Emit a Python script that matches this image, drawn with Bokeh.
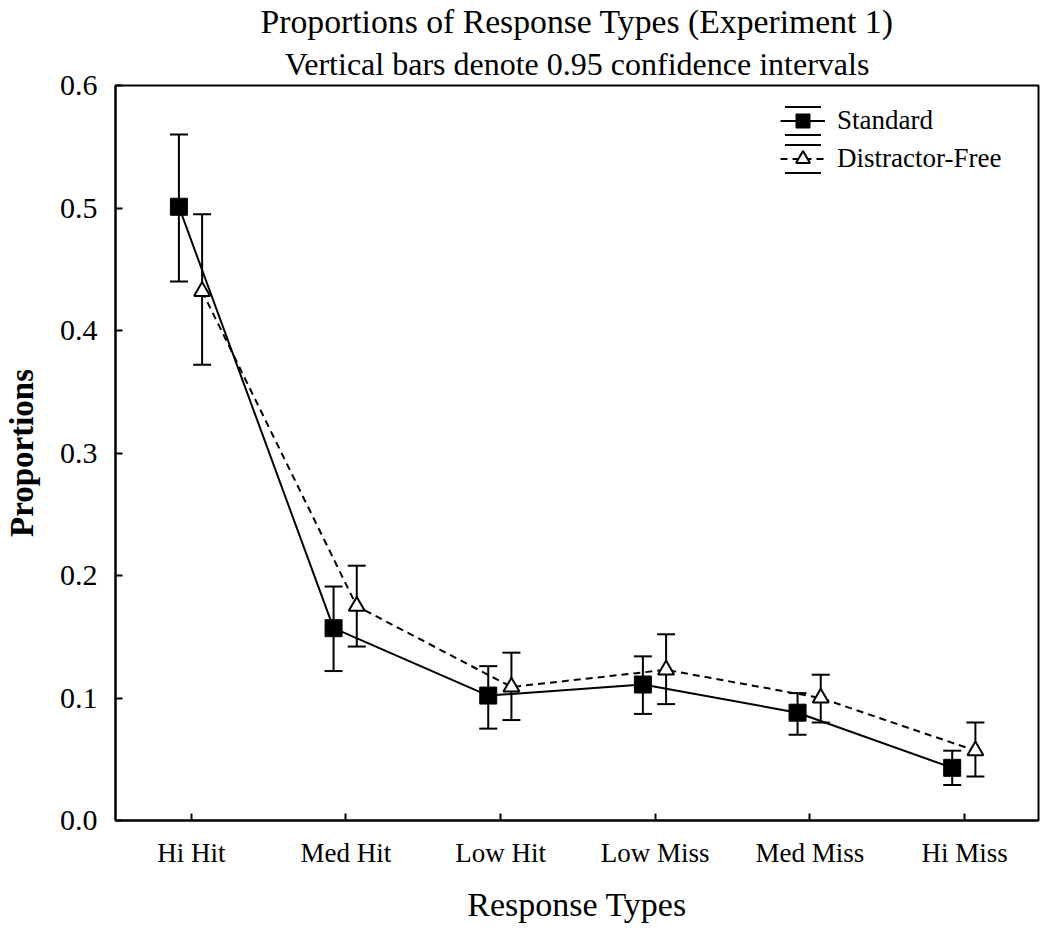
import numpy as np
from bokeh.plotting import figure
from bokeh.models import (ColumnDataSource, Whisker, TeeHead, FixedTicker, NumeralTickFormatter,
                          Legend, LegendItem, Title, Range1d)
from bokeh.embed import file_html
from bokeh.resources import INLINE

# ---- data ----
categories = ["Hi Hit", "Med Hit", "Low Hit", "Low Miss", "Med Miss", "Hi Miss"]
std_mean = [0.501, 0.157, 0.102, 0.111, 0.088, 0.043]
std_lower = [0.440, 0.122, 0.075, 0.087, 0.070, 0.029]
std_upper = [0.560, 0.191, 0.126, 0.134, 0.104, 0.057]
free_mean = [0.432, 0.175, 0.109, 0.123, 0.100, 0.057]
free_lower = [0.372, 0.142, 0.082, 0.095, 0.080, 0.036]
free_upper = [0.495, 0.208, 0.137, 0.152, 0.119, 0.080]
y_ticks = [0.0, 0.1, 0.2, 0.3, 0.4, 0.5, 0.6]

FONT = "Liberation Serif"
pos = list(range(len(categories)))
std_x = [i - 0.08 for i in pos]
free_x = [i + 0.07 for i in pos]

std_src = ColumnDataSource(dict(x=std_x, y=std_mean, lo=std_lower, hi=std_upper))
free_src = ColumnDataSource(dict(x=free_x, y=free_mean, lo=free_lower, hi=free_upper))

p = figure(width=1040, height=925, output_backend="svg", toolbar_location=None,
           x_range=Range1d(-0.49, 5.478), y_range=Range1d(0.0, 0.6),
           min_border_left=113, min_border_right=2, min_border_top=85, min_border_bottom=99,
           background_fill_color="white", border_fill_color="white")
p.title = None
p.grid.visible = False
p.outline_line_color = "black"
p.outline_line_width = 2

# titles: subtitle first (next to the frame), then the main title above it
p.add_layout(Title(text="Vertical bars denote 0.95 confidence intervals", align="center",
                   text_font=FONT, text_font_size="32px", text_font_style="normal",
                   text_color="black", standoff=8), "above")
p.add_layout(Title(text="Proportions of Response Types (Experiment 1)", align="center",
                   text_font=FONT, text_font_size="33.7px", text_font_style="normal",
                   text_color="black", standoff=0), "above")

# axes
p.xaxis.ticker = FixedTicker(ticks=pos)
p.xaxis.major_label_overrides = {i: c for i, c in zip(pos, categories)}
p.yaxis.ticker = FixedTicker(ticks=y_ticks)
p.yaxis.formatter = NumeralTickFormatter(format="0.0")
for ax in (p.xaxis, p.yaxis):
    ax.axis_line_width = 2
    ax.axis_line_color = "black"
    ax.major_tick_line_width = 2
    ax.major_tick_in = 7
    ax.major_tick_out = 0
    ax.minor_tick_line_color = None
    ax.major_label_text_font = FONT
    ax.major_label_text_color = "black"
    ax.axis_label_text_font = FONT
    ax.axis_label_text_color = "black"
p.xaxis.major_label_text_font_size = "27px"
p.yaxis.major_label_text_font_size = "30px"
p.xaxis.major_label_standoff = 17
p.yaxis.major_label_standoff = 18
p.xaxis.axis_label = "Response Types"
p.xaxis.axis_label_text_font_size = "34px"
p.xaxis.axis_label_text_font_style = "normal"
p.xaxis.axis_label_standoff = 15
p.yaxis.axis_label = "Proportions"
p.yaxis.axis_label_text_font_size = "33px"
p.yaxis.axis_label_text_font_style = "bold"
p.yaxis.axis_label_standoff = 17

# lines
std_line = p.line("x", "y", source=std_src, line_color="black", line_width=2)
free_line = p.line("x", "y", source=free_src, line_color="black", line_width=2, line_dash="7 5")

# error bars
for src in (std_src, free_src):
    w = Whisker(base="x", upper="hi", lower="lo", dimension="height", source=src,
                line_color="black", line_width=2,
                upper_head=TeeHead(size=18, line_width=2, line_color="black"),
                lower_head=TeeHead(size=18, line_width=2, line_color="black"))
    p.add_layout(w)

# markers
std_pts = p.scatter("x", "y", source=std_src, marker="square", size=17,
                    fill_color="black", line_color="black", line_width=1)
free_pts = p.scatter("x", "y", source=free_src, marker="triangle", size=16,
                     fill_color="white", line_color="black", line_width=2)

# legend error-bar caps: dashed box outline shows only its top and bottom edges
nan = np.array([np.nan])
cap_src = ColumnDataSource(dict(left=nan, right=nan, top=nan, bottom=nan))
cap_std = p.quad(left="left", right="right", top="top", bottom="bottom", source=cap_src,
                 fill_alpha=0, line_color="black", line_width=2, line_dash="36 28")
cap_free = p.quad(left="left", right="right", top="top", bottom="bottom", source=cap_src,
                  fill_alpha=0, line_color="black", line_width=2, line_dash="36 28")

legend = Legend(items=[
    LegendItem(label="Standard", renderers=[cap_std, std_line, std_pts]),
    LegendItem(label="Distractor-Free", renderers=[cap_free, free_line, free_pts]),
], location=(665, 644), orientation="vertical",
    glyph_width=45, glyph_height=35, label_height=35, spacing=3, padding=0, margin=0,
    label_standoff=12, label_text_font=FONT, label_text_font_size="27px",
    label_text_color="black", border_line_alpha=0, background_fill_alpha=0)
p.add_layout(legend)

open("out.html", "w").write(file_html(p, INLINE))
